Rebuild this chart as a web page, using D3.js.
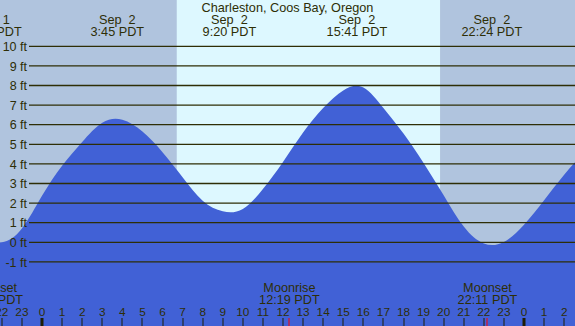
<!DOCTYPE html>
<html>
<head>
<meta charset="utf-8">
<script src="https://cdn.jsdelivr.net/npm/d3@7"></script>
<style>
  body { margin: 0; background: #fff; }
  svg { display: block; }
  text { font-family: "Liberation Sans", Arial, sans-serif; fill: #2e2e06; }
</style>
</head>
<body>
<div id="chart"></div>
<script>
// Hourly tide heights (ft), hours from midnight Sep 2
const tideHours = [-3, -2, -1, 0, 1, 2, 3, 4, 5, 6, 7, 8, 9, 10, 11, 12, 13, 14, 15, 16, 17, 18, 19, 20, 21, 22, 23, 24, 25, 26, 27]
const tideFeet = [0.25, 0.0, 0.7, 2.37, 3.91, 5.12, 6.1, 6.25, 5.65, 4.6, 3.32, 2.12, 1.58, 1.7, 2.72, 4.1, 5.6, 6.85, 7.75, 7.9, 6.85, 5.55, 4.05, 2.4, 0.8, -0.06, 0.02, 0.9, 2.15, 3.45, 4.6]

// High / low tide labels
const extremeHours = [-2.52, 3.75, 9.33, 15.68, 22.4]
const extremeDates = ['Sep  1', 'Sep  2', 'Sep  2', 'Sep  2', 'Sep  2']
const extremeTimes = ['21:29 PDT', '3:45 PDT', '9:20 PDT', '15:41 PDT', '22:24 PDT']

// Daylight (sunrise, sunset)
const sunrise = 6.71
const sunset = 19.82

// Moon events
const moonHours = [-2.45, 12.32, 22.18]
const moonNames = ['Moonset', 'Moonrise', 'Moonset']
const moonTimes = ['21:33 PDT', '12:19 PDT', '22:11 PDT']

const feetTicks = [-1, 0, 1, 2, 3, 4, 5, 6, 7, 8, 9, 10]
const hourTicks = d3.range(-2, 27)

const title = 'Charleston, Coos Bay, Oregon'

const w = 575
const h = 326

const x = d3.scaleLinear().domain([0, 24]).range([42, 524])
const y = d3.scaleLinear().domain([-1, 10]).range([261.9, 46.3])

const svg = d3.select('#chart')
    .append('svg')
    .attr('width', w)
    .attr('height', h)

// Night background, then the day band
svg.append('rect')
    .attr('width', w)
    .attr('height', h)
    .attr('fill', '#b0c4de')

svg.append('rect')
    .attr('x', x(sunrise))
    .attr('y', 0)
    .attr('width', x(sunset) - x(sunrise))
    .attr('height', h)
    .attr('fill', '#ddf8ff')

// Tide area
const area = d3.area()
    .x((d) => x(d[0]))
    .y0(h)
    .y1((d) => y(d[1]))
    .curve(d3.curveNatural)

svg.append('path')
    .datum(d3.zip(tideHours, tideFeet))
    .attr('d', area)
    .attr('fill', '#4161d6')

// Horizontal grid lines and foot labels
svg.append('g')
    .selectAll('line')
    .data(feetTicks)
    .join('line')
    .attr('x1', 29)
    .attr('x2', w)
    .attr('y1', (d) => y(d))
    .attr('y2', (d) => y(d))
    .attr('stroke', '#2e2e06')
    .attr('stroke-width', 1.3)

svg.append('g')
    .selectAll('text')
    .data(feetTicks)
    .join('text')
    .attr('x', 27)
    .attr('y', (d) => y(d) + 4.6)
    .attr('text-anchor', 'end')
    .style('font-size', '12.5px')
    .text((d) => `${d} ft`)

// Title
svg.append('text')
    .attr('x', w / 2)
    .attr('y', 12.3)
    .attr('text-anchor', 'middle')
    .style('font-size', '12.7px')
    .text(title)

// Tide extreme labels
const ext = svg.append('g')
    .selectAll('g')
    .data(extremeHours)
    .join('g')
    .attr('transform', (d) => `translate(${x(d)},0)`)
    .attr('text-anchor', 'middle')
    .style('font-size', '12.7px')

ext.append('text')
    .attr('y', 24.3)
    .style('white-space', 'pre')
    .text((d, i) => extremeDates[i])

ext.append('text')
    .attr('y', 36)
    .text((d, i) => extremeTimes[i])

// Moon labels
const moon = svg.append('g')
    .selectAll('g')
    .data(moonHours)
    .join('g')
    .attr('transform', (d) => `translate(${x(d)},0)`)
    .attr('text-anchor', 'middle')
    .style('font-size', '12.7px')

moon.append('text')
    .attr('y', 291.7)
    .text((d, i) => moonNames[i])

moon.append('text')
    .attr('y', 304.3)
    .text((d, i) => moonTimes[i])

// Hour axis
svg.append('g')
    .selectAll('text')
    .data(hourTicks)
    .join('text')
    .attr('x', (d) => x(d))
    .attr('y', 316)
    .attr('text-anchor', 'middle')
    .style('font-size', '11.8px')
    .text((d) => ((d % 24) + 24) % 24)

svg.append('g')
    .selectAll('rect')
    .data(hourTicks)
    .join('rect')
    .attr('x', (d) => (d % 24 === 0 ? Math.round(x(d)) - 1.5 : Math.round(x(d)) - 0.5))
    .attr('y', 318)
    .attr('width', (d) => (d % 24 === 0 ? 3 : 1))
    .attr('height', h - 318)
    .attr('fill', '#1e1e06')

svg.append('g')
    .selectAll('rect')
    .data(moonHours)
    .join('rect')
    .attr('x', (d) => Math.round(x(d)) - 0.5)
    .attr('y', 318)
    .attr('width', 1)
    .attr('height', h - 318)
    .attr('fill', '#ff0000')
</script>
</body>
</html>
